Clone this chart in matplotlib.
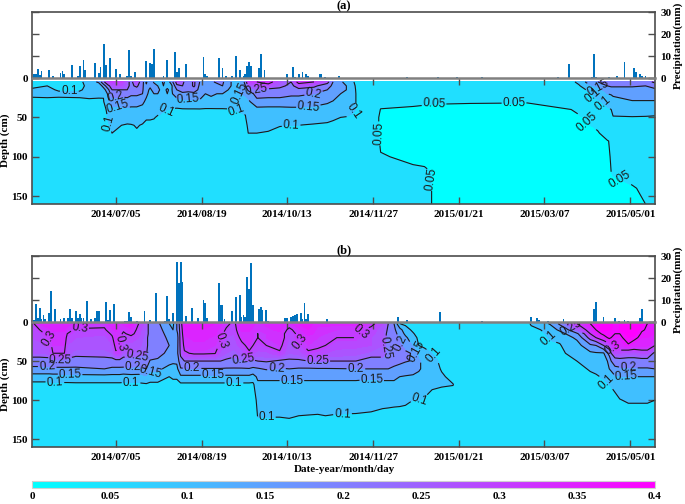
import matplotlib
matplotlib.use('Agg')
import numpy as np
import matplotlib.pyplot as plt
from matplotlib.cm import ScalarMappable
from matplotlib.colors import Normalize, LinearSegmentedColormap, to_hex

W, H = 685, 504
plt.rcParams['font.family'] = ['Liberation Serif', 'DejaVu Serif']
plt.rcParams['font.weight'] = 'bold'

tick_days = [44, 89, 134, 179, 224, 269, 314]
tick_dates = ['2014/07/05', '2014/08/19', '2014/10/13', '2014/11/27', '2015/01/21', '2015/03/07', '2015/05/01']
cbar_ticks = [0, 0.05, 0.1, 0.15, 0.2, 0.25, 0.3, 0.35, 0.4]
line_levels = [0.05, 0.1, 0.15, 0.2, 0.25, 0.3, 0.35]

# flat bands up to 0.25, then a soft ramp from purple to magenta like the reference
band_levels = [0, 0.05, 0.1, 0.15, 0.2]
band_colors = ['#00FFFF', '#20DFFF', '#40BFFF', '#609FFF', '#8080FF']
ramp_levels = list(np.linspace(0.25, 0.37, 9))
ramp = LinearSegmentedColormap.from_list('purple_magenta', ['#9F60FF', '#FF00FF'])
levels = band_levels + ramp_levels + [0.5]
fill_colors = band_colors + [to_hex(ramp(i / 8)) for i in range(9)]

# rain, panel a
rain_days_a = [1, 2, 3, 4, 5, 9, 11, 15, 16, 17, 21, 24, 25, 27, 28, 33, 35, 36, 38, 39, 41, 44, 46, 50, 51, 52, 54,
               60, 62, 63, 64, 69, 71, 75, 76, 77, 81, 90, 91, 92, 98, 100, 102, 105, 107, 109, 111, 112, 113, 114, 115,
               119, 120, 122, 134, 137, 138, 140, 142, 144, 145, 151, 152, 154, 161,
               197, 213, 223, 236, 276, 282, 294, 295, 296, 303, 307, 311, 316, 317, 319, 320, 322]
rain_mm_a = [1.7, 1.7, 4.2, 1.5, 3, 3.5, 1, 2.4, 3, 1.7, 6, 0.8, 5.3, 8.3, 3.8, 7, 2.3, 4.8, 15.3, 5.8, 9.2, 4.2, 2, 1, 12.6, 0.8, 2.6,
             7.9, 7, 6.5, 13.3, 1, 8.3, 11.7, 2.7, 4.4, 6.5, 9.4, 1.7, 0.8, 9, 4.5, 1, 1, 10, 3.6, 0.8, 1.7, 5.5, 7.3, 5.5,
             4.4, 11, 3.8, 2, 5, 0.5, 2, 2.9, 2, 1, 1.7, 2, 0.6, 0.8,
             0.5, 0.5, 0.6, 0.4, 0.3, 6.5, 0.6, 11, 0.6, 0.5, 0.8, 7.4, 4.4, 2.7, 1.7, 0.8, 1]

# rain, panel b
rain_days_b = [1, 2, 3, 4, 5, 6, 7, 9, 10, 12, 15, 17, 19, 20, 21, 23, 24, 25, 26, 27, 29, 31, 33, 34, 35, 39, 40, 41, 43,
               49, 50, 51, 52, 55, 59, 62, 65, 70, 71, 72, 74, 76, 77, 78, 79, 81, 84, 87, 90, 91, 92, 98, 99, 100, 101,
               105, 107, 109, 110, 111, 112, 113, 114, 115, 116, 119, 120, 121, 123, 124, 133, 134, 136, 137, 138, 139, 141,
               142, 143, 144, 145, 155, 191, 192, 197, 214, 236, 262, 265, 266, 271, 279, 295, 296, 300, 306, 308, 311, 313, 319, 320]
rain_mm_b = [1, 8, 1.7, 6.3, 1.4, 3.2, 1.2, 4, 14.2, 5.8, 1.2, 2, 2, 6.1, 2, 5, 1.7, 3.7, 1.7, 1.7, 9.6, 1.5, 1.8, 5, 5.2, 9.2, 1, 5.6, 8,
             0.3, 0.3, 4.6, 2.3, 0.6, 5.2, 1, 13.3, 0.5, 12, 1.2, 4, 27.5, 17.6, 27.5, 18.3, 2.9, 6.4, 1.7, 10, 8.7, 1.8, 17.9, 7.6, 7.6, 1.2,
             5.2, 11.3, 12.4, 2.3, 3.4, 2.3, 20.5, 15, 26.9, 7.9, 6.1, 6.6, 5.3, 5.5, 0.6, 1.8, 1.8, 2.1, 2.6, 3, 3.5, 4.3,
             1.2, 8.5, 1.4, 3.5, 1.4, 0.2, 2.4, 0.8, 4.7, 0.6, 2.3, 1.7, 0.8, 0.3, 1.4, 5.9, 8.9, 2.4, 1.7, 0.5, 0.9, 0.4, 1.7, 5.8]

# soil moisture, one list per day column, rows are depths
depths_a = [5, 10, 15, 20, 30, 40, 50, 60, 70, 80, 100, 120, 140, 160]
depths_b = [2, 10, 15, 20, 30, 40, 50, 60, 70, 80, 100, 120, 140, 160]

days_a = [0, 8, 14, 25, 30, 35, 37.5, 40, 42, 47, 50, 52, 55, 58, 60, 62, 64, 66, 69, 71, 73, 76, 79, 82, 85, 88, 91, 94,
          97, 100, 103, 106, 109, 112, 113.5, 118, 124, 130, 136, 140, 148, 155, 158, 162, 165, 168, 170, 172, 181, 183,
          200, 206, 211, 230, 260, 283, 287, 292, 297, 302, 304, 305, 315, 322, 327]
theta_a = [
    [.09, .095, .103, .104, .095, .08, .07, .065, .06, .06, .06, .06, .06, .06],
    [.095, .1, .104, .105, .095, .08, .07, .065, .06, .06, .06, .06, .06, .06],
    [.09, .094, .098, .104, .095, .08, .07, .065, .06, .06, .06, .06, .06, .06],
    [.09, .095, .098, .104, .096, .08, .07, .065, .06, .06, .06, .06, .06, .06],
    [.12, .105, .105, .105, .097, .08, .07, .065, .06, .06, .06, .06, .06, .06],
    [.16, .11, .107, .105, .096, .08, .07, .065, .06, .06, .06, .06, .06, .06],
    [.24, .17, .125, .104, .097, .082, .072, .066, .06, .06, .06, .06, .06, .06],
    [.29, .24, .19, .16, .14, .115, .105, .097, .09, .08, .06, .06, .06, .06],
    [.3, .27, .25, .23, .17, .135, .115, .105, .1, .09, .06, .06, .06, .06],
    [.3, .28, .25, .22, .17, .14, .115, .1, .09, .08, .06, .06, .06, .06],
    [.26, .26, .25, .22, .18, .14, .11, .098, .09, .08, .06, .06, .06, .06],
    [.24, .24, .23, .21, .17, .14, .115, .098, .09, .08, .06, .06, .06, .06],
    [.28, .26, .23, .21, .17, .14, .115, .102, .097, .085, .06, .06, .06, .06],
    [.22, .21, .205, .2, .16, .135, .11, .098, .09, .08, .06, .06, .06, .06],
    [.14, .16, .17, .16, .14, .125, .105, .09, .085, .08, .06, .06, .06, .06],
    [.2, .16, .14, .135, .13, .12, .105, .09, .085, .08, .06, .06, .06, .06],
    [.14, .18, .17, .15, .14, .12, .103, .088, .08, .075, .06, .06, .06, .06],
    [.11, .15, .155, .15, .135, .115, .095, .085, .08, .075, .06, .06, .06, .06],
    [.16, .15, .14, .14, .13, .105, .09, .08, .075, .07, .06, .06, .06, .06],
    [.12, .14, .155, .15, .125, .1, .085, .08, .075, .07, .06, .06, .06, .06],
    [.17, .13, .14, .14, .115, .098, .08, .075, .07, .07, .06, .06, .06, .06],
    [.27, .24, .2, .18, .125, .095, .08, .075, .07, .07, .06, .06, .06, .06],
    [.26, .25, .22, .19, .13, .097, .08, .075, .07, .07, .06, .06, .06, .06],
    [.22, .22, .21, .19, .135, .097, .08, .075, .07, .07, .06, .06, .06, .06],
    [.26, .26, .22, .19, .135, .097, .08, .075, .07, .07, .06, .06, .06, .06],
    [.2, .19, .19, .18, .14, .097, .08, .075, .07, .07, .06, .06, .06, .06],
    [.16, .16, .16, .15, .13, .096, .08, .075, .07, .07, .06, .06, .06, .06],
    [.19, .2, .18, .16, .13, .096, .08, .075, .07, .07, .06, .06, .06, .06],
    [.21, .18, .16, .15, .125, .097, .08, .075, .07, .07, .06, .06, .06, .06],
    [.21, .2, .17, .15, .125, .097, .08, .075, .07, .07, .06, .06, .06, .06],
    [.16, .155, .15, .15, .125, .098, .08, .075, .07, .07, .06, .06, .06, .06],
    [.14, .145, .145, .15, .125, .1, .085, .075, .07, .07, .06, .06, .06, .06],
    [.13, .14, .15, .15, .13, .102, .095, .08, .07, .07, .06, .06, .06, .06],
    [.22, .2, .17, .155, .135, .105, .098, .085, .075, .07, .06, .06, .06, .06],
    [.3, .26, .21, .17, .14, .125, .115, .11, .1, .08, .06, .06, .06, .06],
    [.3, .27, .25, .22, .185, .135, .12, .11, .1, .08, .06, .06, .06, .06],
    [.32, .28, .24, .22, .18, .135, .12, .11, .097, .08, .06, .06, .06, .06],
    [.27, .26, .24, .22, .18, .135, .12, .102, .09, .08, .06, .06, .06, .06],
    [.25, .24, .235, .21, .175, .14, .12, .1, .09, .08, .06, .06, .06, .06],
    [.32, .27, .24, .21, .175, .14, .12, .1, .09, .08, .06, .06, .06, .06],
    [.3, .26, .23, .2, .165, .14, .115, .097, .09, .08, .06, .06, .06, .06],
    [.27, .22, .2, .19, .155, .135, .11, .095, .09, .08, .06, .06, .06, .06],
    [.2, .19, .18, .17, .148, .13, .105, .093, .085, .08, .06, .06, .06, .06],
    [.16, .17, .16, .15, .135, .125, .1, .09, .085, .08, .06, .06, .06, .06],
    [.13, .15, .15, .14, .13, .12, .098, .088, .08, .075, .06, .06, .06, .06],
    [.11, .12, .125, .13, .125, .11, .09, .085, .08, .075, .06, .06, .06, .06],
    [.09, .095, .098, .1, .1, .1, .085, .08, .075, .07, .06, .06, .06, .06],
    [.085, .09, .09, .09, .09, .09, .08, .075, .07, .07, .06, .06, .06, .06],
    [.08, .08, .075, .07, .065, .06, .06, .06, .06, .06, .06, .06, .06, .06],
    [.08, .08, .075, .07, .06, .049, .04, .04, .04, .045, .052, .06, .06, .06],
    [.07, .07, .07, .065, .058, .045, .03, .03, .03, .035, .045, .055, .056, .056],
    [.07, .07, .068, .065, .056, .043, .03, .03, .03, .035, .045, .053, .053, .053],
    [.07, .07, .068, .064, .054, .042, .03, .03, .03, .03, .04, .049, .049, .049],
    [.07, .07, .068, .064, .053, .04, .03, .03, .03, .03, .03, .03, .03, .03],
    [.07, .07, .068, .064, .052, .04, .03, .03, .03, .03, .03, .03, .03, .03],
    [.09, .085, .08, .07, .055, .05, .04, .03, .03, .03, .03, .03, .03, .03],
    [.11, .095, .085, .08, .065, .057, .046, .035, .03, .03, .03, .03, .03, .03],
    [.17, .13, .105, .095, .08, .07, .055, .048, .035, .03, .03, .03, .03, .03],
    [.2, .16, .13, .115, .095, .08, .065, .055, .048, .04, .03, .03, .03, .03],
    [.25, .2, .17, .15, .11, .095, .08, .07, .06, .049, .045, .04, .035, .03],
    [.24, .21, .17, .155, .12, .1, .09, .075, .065, .052, .052, .05, .045, .04],
    [.24, .21, .17, .155, .14, .11, .098, .08, .07, .06, .053, .051, .046, .042],
    [.24, .205, .185, .17, .147, .12, .098, .085, .075, .07, .058, .054, .049, .046],
    [.23, .2, .19, .17, .147, .12, .097, .085, .075, .07, .06, .056, .052, .05],
    [.26, .22, .19, .17, .147, .12, .095, .085, .075, .07, .06, .056, .053, .052],
]

days_b = [0, 4, 9, 11, 17, 18.5, 23, 38, 42, 44, 46, 48, 52, 56, 60, 62, 66, 72, 74, 76, 78, 80, 85, 90, 96, 99, 102, 106,
          110, 114, 116, 118.5, 123, 130, 135, 140, 145, 150, 154, 160, 170, 178, 184, 187, 190, 193, 196, 200, 203, 206,
          210, 215, 221, 223, 226, 260, 262, 267, 272, 277, 280, 286, 293, 296, 300, 303, 304, 306, 308.5, 313, 316, 320, 323, 327]
theta_b = [
    [.29, .28, .28, .28, .275, .265, .235, .185, .13, .085, .07, .07, .07, .07],
    [.33, .3, .29, .285, .275, .265, .235, .185, .13, .085, .07, .07, .07, .07],
    [.34, .32, .31, .3, .285, .27, .235, .185, .13, .085, .07, .07, .07, .07],
    [.34, .33, .32, .32, .31, .3, .24, .19, .13, .09, .07, .07, .07, .07],
    [.34, .33, .32, .32, .31, .3, .24, .19, .13, .09, .07, .07, .07, .07],
    [.34, .31, .3, .29, .28, .27, .24, .19, .13, .09, .07, .07, .07, .07],
    [.32, .295, .29, .28, .27, .26, .235, .19, .135, .09, .07, .07, .07, .07],
    [.31, .295, .285, .27, .27, .26, .24, .2, .135, .09, .07, .07, .07, .07],
    [.34, .32, .305, .295, .28, .265, .24, .19, .135, .09, .07, .07, .07, .07],
    [.34, .33, .32, .32, .31, .295, .24, .19, .135, .09, .07, .07, .07, .07],
    [.32, .31, .31, .31, .305, .295, .24, .19, .135, .09, .07, .07, .07, .07],
    [.33, .305, .295, .285, .275, .265, .235, .19, .13, .09, .07, .07, .07, .07],
    [.35, .32, .31, .29, .275, .265, .235, .19, .135, .09, .07, .07, .07, .07],
    [.3, .29, .285, .28, .27, .26, .235, .185, .135, .09, .07, .07, .07, .07],
    [.27, .26, .26, .255, .255, .252, .235, .2, .14, .095, .07, .07, .07, .07],
    [.23, .24, .24, .24, .24, .235, .195, .165, .125, .09, .07, .07, .07, .07],
    [.21, .22, .225, .225, .225, .22, .19, .16, .125, .09, .07, .07, .07, .07],
    [.15, .17, .18, .19, .2, .185, .165, .135, .1, .085, .07, .07, .07, .07],
    [.14, .15, .16, .17, .175, .18, .16, .13, .105, .09, .07, .07, .07, .07],
    [.2, .2, .18, .17, .175, .18, .16, .135, .105, .09, .07, .07, .07, .07],
    [.28, .27, .27, .27, .265, .26, .235, .195, .14, .09, .07, .07, .07, .07],
    [.35, .34, .33, .32, .31, .295, .25, .197, .14, .09, .07, .07, .07, .07],
    [.34, .34, .33, .33, .32, .305, .25, .197, .14, .09, .07, .07, .07, .07],
    [.34, .34, .33, .33, .32, .305, .25, .197, .14, .09, .07, .07, .07, .07],
    [.34, .33, .33, .32, .31, .302, .25, .197, .14, .09, .07, .07, .07, .07],
    [.33, .32, .31, .305, .295, .275, .25, .197, .14, .09, .07, .07, .07, .07],
    [.31, .295, .285, .28, .275, .265, .245, .195, .14, .09, .07, .07, .07, .07],
    [.29, .285, .28, .275, .27, .26, .24, .195, .14, .09, .07, .07, .07, .07],
    [.34, .33, .32, .31, .29, .27, .245, .195, .14, .09, .07, .07, .07, .07],
    [.34, .33, .32, .32, .31, .295, .25, .197, .14, .09, .07, .07, .07, .07],
    [.33, .32, .31, .31, .3, .28, .245, .19, .13, .09, .07, .07, .07, .07],
    [.32, .31, .3, .3, .29, .275, .25, .195, .16, .14, .115, .102, .08, .07],
    [.33, .32, .31, .31, .3, .275, .255, .205, .16, .14, .115, .102, .08, .07],
    [.34, .33, .32, .32, .31, .295, .245, .195, .155, .145, .12, .102, .08, .07],
    [.32, .29, .28, .28, .27, .265, .245, .2, .155, .145, .12, .104, .08, .07],
    [.34, .32, .31, .305, .29, .27, .245, .195, .155, .145, .12, .1, .08, .07],
    [.35, .34, .33, .32, .31, .295, .25, .195, .155, .145, .12, .099, .08, .07],
    [.33, .32, .32, .31, .305, .292, .25, .197, .155, .145, .12, .098, .08, .07],
    [.33, .32, .31, .31, .3, .28, .25, .197, .155, .145, .12, .1, .08, .07],
    [.33, .31, .305, .3, .285, .275, .25, .198, .155, .145, .118, .098, .08, .07],
    [.33, .31, .305, .3, .285, .27, .25, .2, .155, .145, .118, .097, .08, .07],
    [.31, .29, .285, .28, .28, .26, .24, .2, .155, .14, .115, .095, .08, .07],
    [.28, .27, .27, .265, .265, .26, .24, .2, .16, .14, .112, .09, .08, .07],
    [.25, .245, .24, .24, .24, .24, .23, .2, .16, .14, .11, .09, .08, .07],
    [.2, .21, .22, .225, .225, .22, .21, .195, .16, .14, .108, .09, .08, .07],
    [.1, .17, .18, .19, .21, .215, .21, .185, .15, .135, .107, .09, .08, .07],
    [.09, .12, .14, .16, .18, .21, .205, .165, .148, .13, .105, .09, .08, .07],
    [.07, .09, .105, .12, .145, .195, .195, .165, .145, .125, .1, .085, .08, .07],
    [.07, .075, .08, .09, .1, .135, .155, .155, .14, .12, .1, .085, .08, .07],
    [.07, .075, .08, .085, .095, .11, .14, .14, .125, .115, .097, .08, .075, .07],
    [.07, .07, .075, .08, .085, .1, .115, .118, .112, .105, .09, .08, .075, .07],
    [.07, .07, .07, .075, .08, .085, .09, .097, .105, .103, .085, .075, .07, .07],
    [.07, .07, .07, .07, .075, .08, .085, .088, .09, .101, .085, .075, .07, .07],
    [.07, .07, .07, .07, .07, .075, .08, .08, .085, .09, .08, .07, .07, .07],
    [.07, .07, .07, .07, .07, .07, .07, .07, .07, .07, .07, .07, .07, .07],
    [.09, .07, .07, .07, .07, .07, .07, .07, .07, .07, .07, .07, .07, .07],
    [.105, .09, .085, .08, .07, .07, .07, .07, .07, .07, .07, .07, .07, .07],
    [.13, .1, .09, .085, .08, .07, .07, .07, .07, .07, .07, .07, .07, .07],
    [.155, .125, .11, .105, .09, .08, .07, .07, .07, .07, .07, .07, .07, .07],
    [.21, .16, .13, .115, .095, .085, .075, .07, .07, .07, .07, .07, .07, .07],
    [.25, .18, .15, .13, .115, .1, .085, .075, .07, .07, .07, .07, .07, .07],
    [.3, .26, .19, .16, .13, .115, .1, .085, .07, .07, .07, .07, .07, .07],
    [.35, .32, .3, .27, .19, .14, .125, .105, .09, .075, .07, .07, .07, .07],
    [.37, .35, .33, .3, .2, .145, .13, .11, .095, .08, .07, .07, .07, .07],
    [.41, .38, .36, .33, .25, .145, .13, .12, .105, .09, .07, .07, .07, .07],
    [.39, .37, .36, .36, .28, .22, .16, .15, .12, .1, .07, .07, .07, .07],
    [.38, .37, .36, .35, .3, .25, .2, .16, .125, .105, .075, .07, .07, .07],
    [.36, .36, .35, .34, .33, .28, .23, .185, .145, .115, .085, .07, .07, .07],
    [.37, .37, .35, .34, .33, .28, .235, .19, .145, .125, .098, .07, .07, .07],
    [.4, .39, .38, .37, .345, .27, .235, .195, .15, .135, .105, .08, .07, .07],
    [.41, .39, .38, .36, .33, .27, .235, .195, .15, .135, .105, .08, .07, .07],
    [.38, .355, .345, .34, .33, .28, .235, .195, .15, .135, .105, .08, .07, .07],
    [.35, .345, .34, .34, .33, .28, .235, .195, .15, .135, .105, .08, .07, .07],
    [.35, .34, .34, .33, .3, .24, .22, .2, .15, .135, .1, .085, .07, .07],
]

# where the isoline labels sit (day, depth)
label_spots_a = [(19.6, 16), (43.6, 23), (45, 34.7), (40.5, 56.7), (70, 39.8), (82, 27), (107, 22), (108, 36.4), (118, 16.5),
                 (148, 22.8), (145, 33.4), (136, 58), (168, 40), (211, 33), (253, 33), (291, 56), (184, 70), (208, 128),
                 (307, 136), (292, 29), (301, 28), (297, 14)]
label_spots_b = [(25, 7.7), (9.5, 20.5), (14.7, 48), (8, 58), (20, 67), (12, 78), (45, 27), (55, 42), (53, 55),
                 (62, 60), (52, 77), (84, 59), (95, 67), (106, 77), (98, 22.6), (111, 46), (173, 14), (141, 25),
                 (150, 50.4), (128.5, 63), (170, 59), (136.4, 75), (178.4, 72), (123, 123), (163, 119), (204, 102.6),
                 (186.3, 33), (195, 25), (202, 37.6), (210, 44), (273, 16), (283.5, 5.6), (307, 29), (313, 59), (311.5, 70),
                 (302, 76)]


def px_axes(fig, left, top, right, bottom):
    return fig.add_axes([left / W, 1 - bottom / H, (right - left) / W, (bottom - top) / H])


def panel(fig, top, base, bottom, rain_days, rain_mm, days, depths, theta, spots, name):
    frame = '#4d4d4d'
    ax_r = px_axes(fig, 32, top, 655, base)
    ax_r.bar(rain_days, rain_mm, width=0.95, color='#0072BD')
    ax_r.set_xlim(0, 327)
    ax_r.set_ylim(0, 30)
    ax_r.set_xticks([])
    ax_r.set_yticks([0, 10, 20, 30])
    ax_r.tick_params(axis='y', left=True, right=True, labelleft=False, labelright=True, direction='in',
                     length=5, width=1, color=frame, labelsize=8, pad=4)
    ax_r.set_zorder(2)
    ax_r.patch.set_alpha(0)
    for s in ax_r.spines.values():
        s.set_color(frame)
        s.set_linewidth(1.2)
    ax_r.spines['bottom'].set_color('#808080')
    ax_r.spines['bottom'].set_linewidth(1.8)

    ax_c = px_axes(fig, 32, base, 655, bottom)
    Z = np.array(theta).T
    ax_c.contourf(days, depths, Z, levels=levels, colors=fill_colors)
    cs = ax_c.contour(days, depths, Z, levels=line_levels, colors='#1a1a1a', linewidths=0.8)
    labs = ax_c.clabel(cs, fmt='%g', fontsize=8.5, manual=spots, inline=True, inline_spacing=2)
    for t in labs:
        t.set_family('Liberation Sans')
        t.set_fontweight('normal')
    ax_c.set_xlim(0, 327)
    ax_c.set_ylim(160, 0)
    ax_c.set_xticks(tick_days)
    ax_c.set_xticklabels(tick_dates)
    ax_c.set_yticks([0, 50, 100, 150])
    ax_c.tick_params(axis='both', direction='in', length=5, width=1, color=frame, top=True, right=True, labelsize=8, pad=4)
    ax_c.tick_params(axis='y', pad=3)
    for s in ax_c.spines.values():
        s.set_color(frame)
        s.set_linewidth(1.2)
    ax_c.spines['top'].set_visible(False)
    fig.text(344 / W, 1 - (top - 6) / H, name, ha='center', va='center', fontsize=9)
    fig.text(678 / W, 1 - (top + 33) / H, 'Precipitation(mm)', rotation=90, ha='center', va='center', fontsize=8)
    return ax_c


fig = plt.figure(figsize=(W / 100, H / 100), dpi=100)
panel(fig, 12, 78, 204, rain_days_a, rain_mm_a, days_a, depths_a, theta_a, label_spots_a, '(a)')
panel(fig, 256, 322, 447, rain_days_b, rain_mm_b, days_b, depths_b, theta_b, label_spots_b, '(b)')
fig.text(5 / W, 1 - 140 / H, 'Depth (cm)', rotation=90, ha='center', va='center', fontsize=8)
fig.text(5 / W, 1 - 384 / H, 'Depth (cm)', rotation=90, ha='center', va='center', fontsize=8)
fig.text(344 / W, 1 - 469 / H, 'Date-year/month/day', ha='center', va='center', fontsize=8)

cax = px_axes(fig, 32, 481, 655, 488)
cb = fig.colorbar(ScalarMappable(norm=Normalize(0, 0.4), cmap='cool'), cax=cax, orientation='horizontal')
cb.set_ticks(cbar_ticks)
cb.set_ticklabels(['0', '0.05', '0.1', '0.15', '0.2', '0.25', '0.3', '0.35', '0.4'])
cb.outline.set_edgecolor('#d0d0d0')
cax.tick_params(axis='x', length=0, labelsize=8, pad=3)
cax.set_xticks([0.1, 0.15, 0.25, 0.35], minor=True)
cax.tick_params(axis='x', which='minor', direction='in', length=5, width=0.8, color='#404040')

fig.savefig('out.png', dpi=100)
